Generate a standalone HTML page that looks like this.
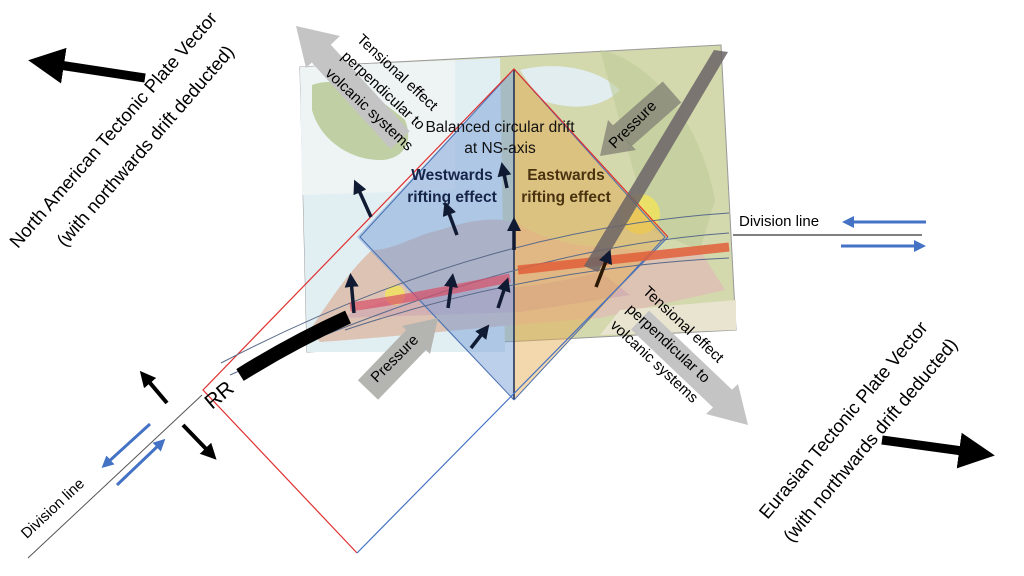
<!DOCTYPE html>
<html><head><meta charset="utf-8"><style>
html,body{margin:0;padding:0;background:#fff;width:1024px;height:576px;overflow:hidden}
svg{display:block}
text{font-family:"Liberation Sans",sans-serif}
</style></head><body>
<svg width="1024" height="576" viewBox="0 0 1024 576" xmlns="http://www.w3.org/2000/svg">
<defs>
<marker id="hb" markerWidth="4" markerHeight="4" refX="2" refY="2" orient="auto" markerUnits="strokeWidth"><path d="M0,0 L4,2 L0,4 z" fill="#000"/></marker>
<marker id="hn" markerWidth="4" markerHeight="4" refX="2" refY="2" orient="auto" markerUnits="strokeWidth"><path d="M0,0 L4,2 L0,4 z" fill="#111a33"/></marker>
<marker id="hblue" markerWidth="4" markerHeight="4" refX="2" refY="2" orient="auto" markerUnits="strokeWidth"><path d="M0,0 L4,2 L0,4 z" fill="#4472c4"/></marker>
</defs>

<!-- map -->
<polygon points="300,67 721,45 736,330 307,352" fill="#d3d8ad" stroke="#999" stroke-width="1"/>
<polygon points="300,67 500,58 505,352 307,352" fill="#e1eef2"/>
<polygon points="300,67 455,60 455,190 302,195" fill="#eef3f4"/>
<path d="M312,85 C340,75 370,90 405,120 C415,145 400,160 380,160 C350,160 320,140 312,110 Z" fill="#c0cfa4"/>
<path d="M310,330 C330,300 350,270 372,250 C395,250 415,235 440,230 C470,220 500,215 520,225 C560,250 620,250 700,250 L725,290 L600,318 C500,325 420,335 320,342 Z" fill="#dcc3b4"/>
<path d="M340,318 C380,300 420,290 470,288 C520,290 560,282 600,272 L630,295 L520,312 Z" fill="#cfa8b0" opacity="0.7"/>
<path d="M520,70 C560,60 600,70 620,90 C600,110 570,110 540,100 Z" fill="#e2edf0"/>
<polygon points="620,310 736,300 736,330 600,335" fill="#e9e4cf"/>
<path d="M600,50 C650,60 700,120 715,200 L700,250 L650,230 Z" fill="#bfcb98" opacity="0.6"/>
<circle cx="640" cy="214" r="20" fill="#f3e35a" opacity="0.8"/>
<circle cx="395" cy="295" r="10" fill="#f3e35a" opacity="0.8"/>

<!-- diamond fills -->
<polygon points="514,69 357,237 514,400" fill="#7a9fd8" opacity="0.5"/>
<polygon points="514,69 668,237 514,400" fill="#e7a94a" opacity="0.45"/>
<line x1="514" y1="69" x2="514" y2="400" stroke="#1a2a50" stroke-width="1.5"/>
<polyline points="514,69 360,237 514,400" fill="none" stroke="#4a6fb0" stroke-width="1"/>
<polyline points="514,69 665,237 514,400" fill="none" stroke="#4a6fb0" stroke-width="1"/>

<!-- red / blue rectangle -->
<polyline points="668,237 514,69 203,390 357,553" fill="none" stroke="#e03030" stroke-width="1.2"/>
<line x1="357" y1="553" x2="668" y2="237" stroke="#4472c4" stroke-width="1.2"/>

<!-- curved lines -->
<path d="M221,363 C380,280 550,225 729,213" fill="none" stroke="#5a6a8a" stroke-width="1"/>
<path d="M230,375 C400,300 560,245 729,233" fill="none" stroke="#5a6a8a" stroke-width="1"/>
<path d="M345,330 C450,295 580,265 729,258" fill="none" stroke="#5a6a8a" stroke-width="1"/>
<line x1="733" y1="235" x2="922" y2="235" stroke="#000" stroke-width="1"/>
<line x1="28" y1="558" x2="202" y2="395" stroke="#555" stroke-width="1"/>

<!-- red bands -->
<path d="M518,270 L729,247" stroke="#e2603a" stroke-width="9" opacity="0.85"/>
<path d="M350,307 C400,300 450,290 510,278" stroke="#d9506a" stroke-width="9" opacity="0.7"/>

<!-- gray band -->
<polygon points="714,50 728,52 598,272 584,266" fill="#6b6466" opacity="0.85"/>

<!-- black thick line -->
<path d="M240,375 C280,350 315,332 348,317" stroke="#000" stroke-width="14" fill="none"/>
<text x="0" y="0" font-size="21" transform="translate(212,410) rotate(-40)">RR</text>

<!-- gray big arrows -->
<line x1="400" y1="140" x2="318" y2="50" stroke="#c4c4c4" stroke-width="26"/>
<polygon points="296,26 340,36 306,68" fill="#c4c4c4"/>
<line x1="640" y1="320" x2="724" y2="400" stroke="#c4c4c4" stroke-width="26"/>
<polygon points="748,425 706,414 738,384" fill="#c4c4c4"/>

<!-- pressure arrows -->
<line x1="672" y1="92" x2="622" y2="136" stroke="#8a8a7a" stroke-width="28" opacity="0.85"/>
<polygon points="600,156 636,150 608,120" fill="#8a8a7a" opacity="0.85"/>
<text font-size="15" text-anchor="middle" transform="translate(636,128) rotate(-45)">Pressure</text>
<line x1="368" y1="390" x2="418" y2="338" stroke="#b4b4b0" stroke-width="28"/>
<polygon points="438,318 402,326 430,354" fill="#b4b4b0"/>
<text font-size="15" text-anchor="middle" transform="translate(398,362) rotate(-45)">Pressure</text>

<!-- tensional texts -->
<g font-size="15" text-anchor="middle">
<text transform="translate(394,76) rotate(43)">Tensional effect</text>
<text transform="translate(380,94) rotate(43)">perpendicular to</text>
<text transform="translate(366,113) rotate(43)">volcanic systems</text>
<text transform="translate(680,328) rotate(43)">Tensional effect</text>
<text transform="translate(665,347) rotate(43)">perpendicular to</text>
<text transform="translate(651,365) rotate(43)">volcanic systems</text>
</g>

<!-- center texts -->
<g font-size="15.5" text-anchor="middle">
<text x="500" y="132" fill="#111">Balanced circular drift</text>
<text x="500" y="153" fill="#111">at NS-axis</text>
<text x="452" y="180" font-weight="bold" fill="#16244a">Westwards</text>
<text x="452" y="202" font-weight="bold" fill="#16244a">rifting effect</text>
<text x="566" y="180" font-weight="bold" fill="#4a3310">Eastwards</text>
<text x="566" y="202" font-weight="bold" fill="#4a3310">rifting effect</text>
</g>

<!-- small map arrows -->
<g stroke="#111a33" stroke-width="3.5" marker-end="url(#hn)">
<line x1="371" y1="217" x2="357" y2="186"/>
<line x1="457" y1="235" x2="447" y2="208"/>
<line x1="507" y1="188" x2="503" y2="169"/>
<line x1="354" y1="313" x2="351" y2="280"/>
<line x1="514" y1="250" x2="514" y2="224"/>
<line x1="448" y1="308" x2="452" y2="280"/>
<line x1="498" y1="308" x2="506" y2="284"/>
<line x1="471" y1="348" x2="485" y2="330"/>
<line x1="596" y1="287" x2="608" y2="256" stroke="#2a1a05"/>
</g>

<!-- black vector arrows -->
<g stroke="#000" marker-end="url(#hb)">
<line x1="145" y1="78" x2="46" y2="63" stroke-width="9"/>
<line x1="882" y1="440" x2="977" y2="453" stroke-width="9"/>
<line x1="167" y1="403" x2="145" y2="377" stroke-width="4"/>
<line x1="183" y1="425" x2="211" y2="454" stroke-width="4"/>
</g>

<!-- blue arrows -->
<g stroke="#4472c4" stroke-width="3" marker-end="url(#hblue)">
<line x1="150" y1="424" x2="106" y2="464"/>
<line x1="117" y1="485" x2="161" y2="443"/>
<line x1="926" y1="222" x2="848" y2="222"/>
<line x1="841" y1="246" x2="920" y2="246"/>
</g>

<!-- labels -->
<text x="739" y="226" font-size="15">Division line</text>
<text font-size="15" text-anchor="middle" transform="translate(56,512) rotate(-43)">Division line</text>
<g font-size="18.5" text-anchor="middle">
<text transform="translate(118,134) rotate(-49)">North American Tectonic Plate Vector</text>
<text transform="translate(150,150) rotate(-49)">(with northwards drift deducted)</text>
<text transform="translate(848,424) rotate(-50)">Eurasian Tectonic Plate Vector</text>
<text transform="translate(875,444) rotate(-50)">(with northwards drift deducted)</text>
</g>
</svg>
</body></html>
